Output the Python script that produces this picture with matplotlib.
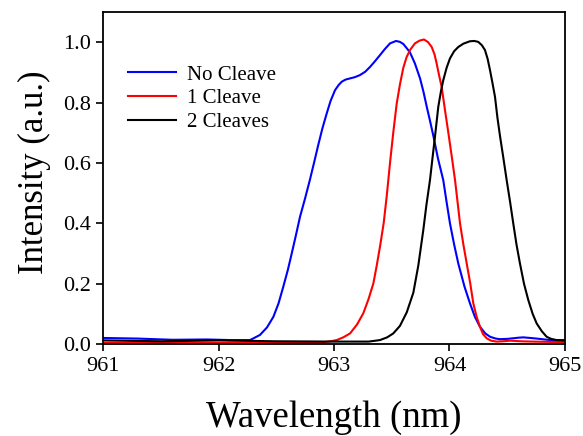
"""
Normalised spectra of the fibre laser for different numbers of cleaves
"""
import matplotlib
matplotlib.use("Agg")
import matplotlib.pyplot as plt

# No cleave (blue)
wl_none = [961.0, 961.3, 961.6, 961.9, 962.1, 962.273, 962.359, 962.42, 962.475, 962.52,
           962.561, 962.60, 962.634, 962.67, 962.706, 962.75, 962.792, 962.83, 962.864, 962.90,
           962.937, 962.97, 963.009, 963.04, 963.067, 963.10, 963.139, 963.18, 963.225, 963.27,
           963.312, 963.355, 963.398, 963.44, 963.485, 963.537, 963.571, 963.60, 963.63, 963.658,
           963.70, 963.745, 963.775, 963.803, 963.831, 963.860, 963.90, 963.946, 963.975, 964.004,
           964.04, 964.076, 964.13, 964.177, 964.22, 964.264, 964.31, 964.351, 964.40, 964.437,
           964.50, 964.552, 964.60, 964.639, 964.70, 964.755, 964.87, 965.0]
int_none = [0.020, 0.018, 0.014, 0.015, 0.013, 0.013, 0.030, 0.055, 0.090, 0.135,
            0.190, 0.245, 0.300, 0.360, 0.422, 0.483, 0.545, 0.605, 0.660, 0.715,
            0.764, 0.805, 0.841, 0.858, 0.869, 0.876, 0.880, 0.884, 0.891, 0.902,
            0.918, 0.937, 0.957, 0.977, 0.996, 1.004, 1.001, 0.994, 0.980, 0.966,
            0.930, 0.880, 0.835, 0.786, 0.740, 0.690, 0.615, 0.543, 0.470, 0.400,
            0.330, 0.267, 0.190, 0.135, 0.090, 0.057, 0.035, 0.024, 0.018, 0.016,
            0.017, 0.019, 0.021, 0.022, 0.020, 0.018, 0.013, 0.013]

# One cleave (red)
wl_one = [961.0, 962.0, 962.8, 962.907, 962.97, 963.023, 963.08, 963.139, 963.20, 963.254,
          963.30, 963.341, 963.37, 963.398, 963.43, 963.456, 963.485, 963.513, 963.543, 963.571,
          963.60, 963.629, 963.66, 963.701, 963.74, 963.779, 963.815, 963.846, 963.87, 963.889,
          963.91, 963.932, 963.961, 963.99, 964.02, 964.048, 964.07, 964.091, 964.12, 964.149,
          964.18, 964.206, 964.235, 964.264, 964.29, 964.322, 964.36, 964.408, 964.46, 964.524,
          964.62, 964.72, 965.0]
int_one = [0.004, 0.004, 0.005, 0.006, 0.009, 0.013, 0.022, 0.035, 0.065, 0.102,
           0.150, 0.201, 0.260, 0.322, 0.400, 0.488, 0.600, 0.700, 0.797, 0.860,
           0.915, 0.951, 0.975, 0.996, 1.005, 1.009, 1.000, 0.984, 0.960, 0.929,
           0.890, 0.852, 0.775, 0.700, 0.620, 0.543, 0.470, 0.400, 0.330, 0.267,
           0.200, 0.135, 0.090, 0.057, 0.033, 0.019, 0.011, 0.008, 0.009, 0.011,
           0.009, 0.008, 0.006]

# Two cleaves (black)
wl_two = [961.0, 961.5, 962.0, 962.5, 963.0, 963.3, 963.398, 963.46, 963.513, 963.571,
          963.63, 963.687, 963.73, 963.773, 963.80, 963.831, 963.86, 963.874, 963.903, 963.925,
          963.946, 963.975, 964.004, 964.04, 964.076, 964.12, 964.177, 964.215, 964.249, 964.28,
          964.307, 964.33, 964.351, 964.372, 964.394, 964.415, 964.437, 964.465, 964.495, 964.525,
          964.552, 964.58, 964.610, 964.645, 964.682, 964.72, 964.755, 964.80, 964.841, 964.88,
          964.928, 965.0]
int_two = [0.012, 0.009, 0.012, 0.009, 0.008, 0.008, 0.013, 0.022, 0.035, 0.060,
           0.105, 0.170, 0.260, 0.377, 0.460, 0.543, 0.640, 0.686, 0.786, 0.835,
           0.874, 0.915, 0.946, 0.970, 0.984, 0.995, 1.003, 1.004, 1.001, 0.990,
           0.974, 0.945, 0.907, 0.865, 0.819, 0.750, 0.690, 0.620, 0.543, 0.470,
           0.400, 0.330, 0.267, 0.200, 0.146, 0.100, 0.068, 0.042, 0.024, 0.017,
           0.013, 0.011]

labels = ["No Cleave", "1 Cleave", "2 Cleaves"]
colors = ["blue", "red", "black"]
x_ticks = [961, 962, 963, 964, 965]
y_ticks = [0.0, 0.2, 0.4, 0.6, 0.8, 1.0]

plt.rcParams['font.family'] = ['Liberation Serif', 'DejaVu Serif']

fig = plt.figure(figsize=(5.83, 4.36), dpi=100)
ax = fig.add_axes([0.1767, 0.211, 0.7924, 0.7615])

for wl, inten, lab, col in zip([wl_none, wl_one, wl_two],
                               [int_none, int_one, int_two], labels, colors):
    ax.plot(wl, inten, color=col, lw=1.5, label=lab)

ax.set_xlim(961, 965)
ax.set_ylim(0, 1.1)
ax.set_xticks(x_ticks)
ax.set_yticks(y_ticks)
ax.set_xticklabels([str(t) for t in x_ticks])
ax.set_yticklabels(["%.1f" % t for t in y_ticks])
ax.tick_params(direction='out', length=5, width=1.2, labelsize=16, pad=4)
for sp in ax.spines.values():
    sp.set_linewidth(1.3)

ax.set_xlabel("Wavelength (nm)", fontsize=26.5, labelpad=18)
ax.set_ylabel("Intensity (a.u.)", fontsize=25)
ax.yaxis.set_label_coords(-0.112, 0.518)

ax.legend(loc='upper left', bbox_to_anchor=(0.054, 0.84), frameon=False,
          borderpad=0, borderaxespad=0,
          fontsize=15, handlelength=2.3, handletextpad=0.55, labelspacing=0.2)

plt.savefig("out.png", dpi=100)
